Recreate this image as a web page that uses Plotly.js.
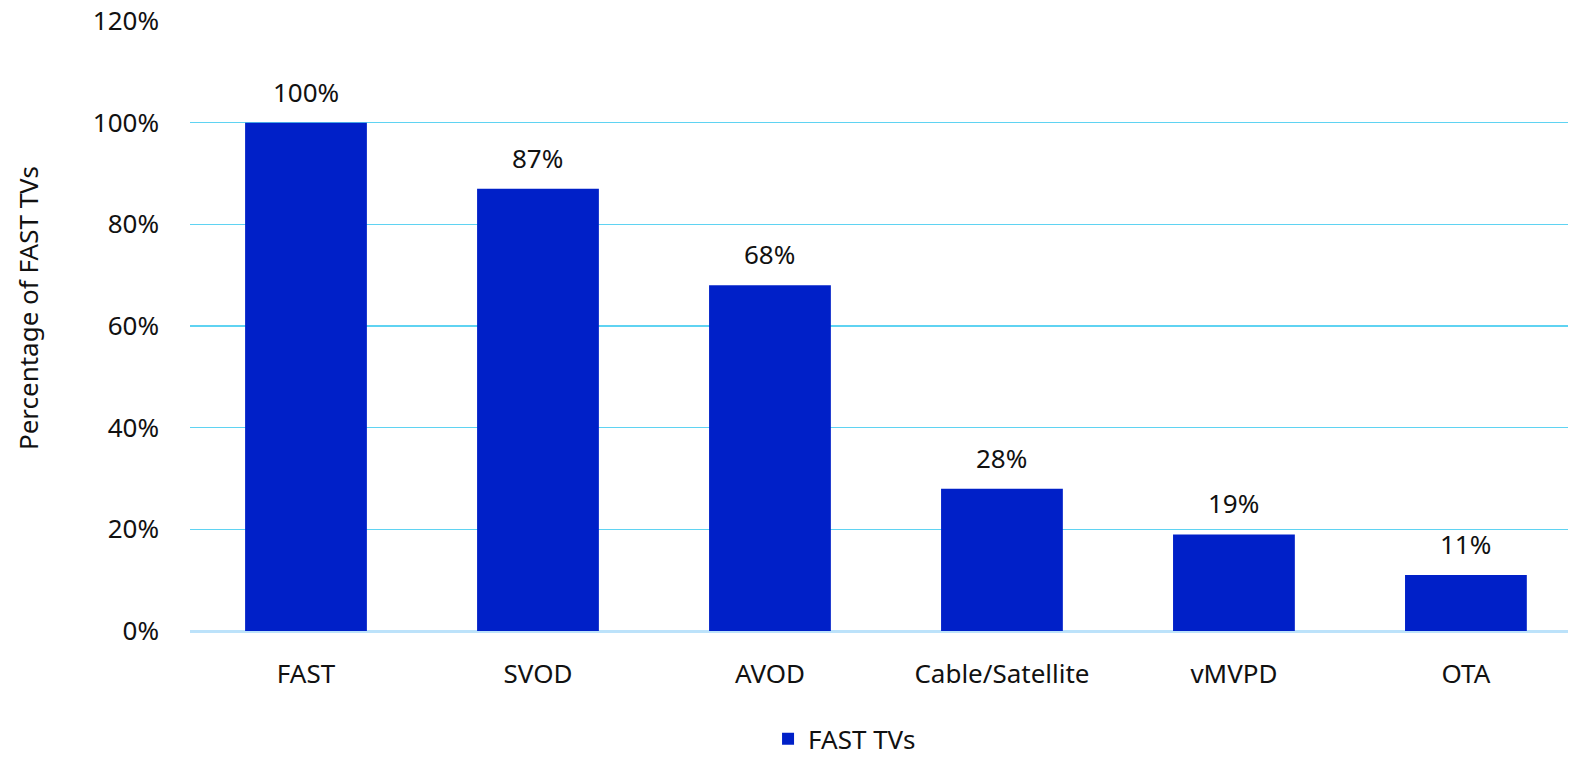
<!DOCTYPE html>
<html>
<head>
<meta charset="utf-8">
<script src="https://cdn.plot.ly/plotly-3.0.1.min.js"></script>
<style>html,body{margin:0;padding:0;background:#fff;overflow:hidden}#chart{width:1569px;height:758px}</style>
</head>
<body>
<div id="chart"></div>
<script>
const categories = ["FAST", "SVOD", "AVOD", "Cable/Satellite", "vMVPD", "OTA"];
const values = [1.00, 0.87, 0.68, 0.28, 0.19, 0.11];
const valueLabels = ["100%", "87%", "68%", "28%", "19%", "11%"];
const seriesName = "FAST TVs";
const yTickVals = [0, 0.2, 0.4, 0.6, 0.8, 1.0, 1.2];
const yTickText = ["0%", "20%", "40%", "60%", "80%", "100%", "120%"];

const font = {family: "Noto Sans, DejaVu Sans, sans-serif", size: 26, color: "#111111"};

const trace = {
  type: "bar",
  x: categories,
  y: values,
  name: seriesName,
  marker: {color: "#0020C8"},
  width: 0.525,
  hoverinfo: "none",
  showlegend: true
};

const annotations = categories.map((c, i) => ({
  x: c, y: values[i], xref: "x", yref: "y",
  text: valueLabels[i], showarrow: false,
  yanchor: "bottom", yshift: 11,
  font: font
}));
annotations.push({
  xref: "paper", yref: "paper", x: -0.118, y: 0.53,
  xanchor: "center", yanchor: "middle",
  text: "Percentage of FAST TVs", textangle: -90, showarrow: false,
  font: font
});

const layout = {
  width: 1569, height: 758,
  margin: {l: 190, r: 1, t: 21, b: 127, autoexpand: false},
  paper_bgcolor: "#ffffff", plot_bgcolor: "#ffffff",
  font: font,
  bargap: 0.475,
  xaxis: {
    type: "category",
    range: [-0.5, 5.44],
    showgrid: false, zeroline: false, showline: false,
    ticks: "", ticklabelstandoff: 25,
    tickfont: font, fixedrange: true
  },
  yaxis: {
    range: [0, 1.2],
    tickvals: yTickVals, ticktext: yTickText,
    showgrid: true, gridcolor: "#5FD3F2", gridwidth: 1.5,
    zeroline: true, zerolinecolor: "#BCE2FA", zerolinewidth: 3,
    showline: false, ticks: "", ticklabelstandoff: 30,
    tickfont: font, fixedrange: true
  },
  showlegend: true,
  legend: {
    orientation: "h", x: 0.475, xanchor: "center", y: -0.177, yanchor: "middle",
    font: font, bgcolor: "rgba(0,0,0,0)"
  },
  annotations: annotations
};

Plotly.newPlot("chart", [trace], layout, {displayModeBar: false, staticPlot: true});
</script>
</body>
</html>
